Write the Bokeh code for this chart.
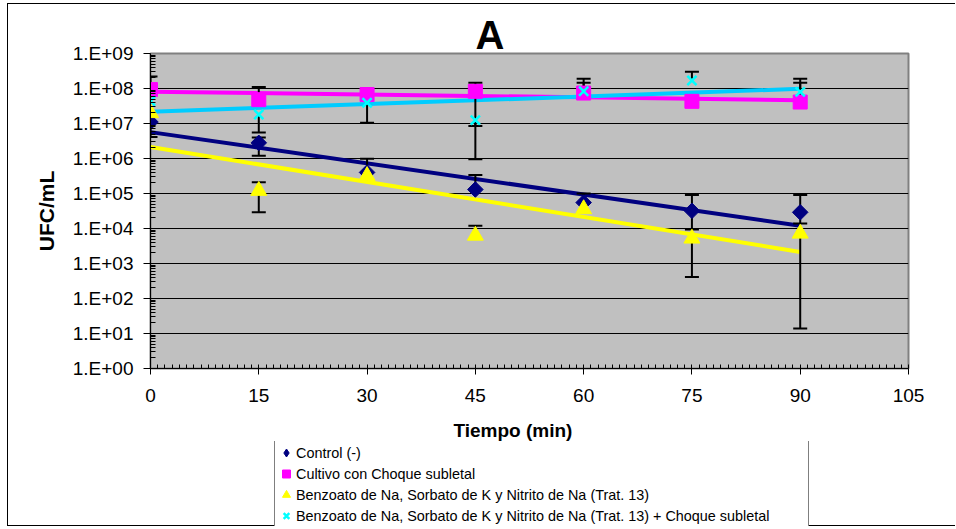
import numpy as np
from bokeh.plotting import figure
from bokeh.layouts import column
from bokeh.models import FixedTicker, Legend, LegendItem
from bokeh.embed import file_html
from bokeh.resources import INLINE

nan = float("nan")

# ---- data ----
minutes = [0, 15, 30, 45, 60, 75, 90]

control = [1.1e7, 2.8e6, 4.0e5, 1.3e5, 5.5e4, 3.2e4, 2.9e4]
control_hi = [nan, 4.0e6, 9.8e5, 3.4e5, 1.0e5, 9.1e4, 9.1e4]
control_lo = [4.1e6, 1.2e6, nan, nan, nan, 9.4e3, 1.4e4]

choque = [9.3e7, 4.8e7, 6.7e7, 8.3e7, 7.4e7, 4.3e7, 4.1e7]
choque_hi = [2.2e8, 1.1e8, 1.0e8, 1.45e8, 1.45e8, nan, 1.45e8]
choque_lo = [nan, nan, nan, 8.5e6, nan, nan, nan]

trat13 = [2.0e7, 1.2e5, 3.2e5, 6.3e3, 3.6e4, 5.2e3, 7.2e3]
trat13_hi = [nan, 2.1e5, nan, 1.2e4, nan, nan, nan]
trat13_lo = [nan, 2.9e4, nan, nan, nan, 4.1e2, 14]

trat13_choque = [4.4e7, 1.8e7, 3.9e7, 1.25e7, 8.3e7, 1.7e8, 8.0e7]
trat13_choque_hi = [nan, nan, nan, nan, 1.9e8, 3.0e8, 1.9e8]
trat13_choque_lo = [nan, 5.5e6, 1.05e7, 9.5e5, nan, nan, nan]

series_names = [
    "Control (-)",
    "Cultivo con Choque subletal",
    "Benzoato de Na, Sorbato de K y Nitrito de Na (Trat. 13)",
    "Benzoato de Na, Sorbato de K y Nitrito de Na (Trat. 13) + Choque subletal",
]

x_ticks = [0, 15, 30, 45, 60, 75, 90, 105]
y_ticks = [1e0, 1e1, 1e2, 1e3, 1e4, 1e5, 1e6, 1e7, 1e8, 1e9]
y_tick_labels = ["1.E+00", "1.E+01", "1.E+02", "1.E+03", "1.E+04",
                 "1.E+05", "1.E+06", "1.E+07", "1.E+08", "1.E+09"]

title_text = "A"
x_title = "Tiempo (min)"
y_title = "UFC/mL"

FONT = "Liberation Sans"

p = figure(width=948, height=408, x_range=(0, 105), y_range=(1, 1e9),
           y_axis_type="log", output_backend="svg", toolbar_location=None,
           min_border_left=142, min_border_right=48, min_border_top=49,
           min_border_bottom=44, background_fill_color="#C0C0C0",
           border_fill_color="white", outline_line_color="#808080",
           outline_line_width=2)
p.margin = (3, 0, 0, 7)
p.styles = {"border-left": "1px solid black", "border-top": "1px solid black"}

# title "A"
p.title.text = title_text
p.title.align = "left"
p.title.offset = 325
p.title.text_font = FONT
p.title.text_font_size = "40px"
p.title.text_font_style = "bold"
p.title.text_color = "black"
p.title.vertical_align = "bottom"
p.title.standoff = -7

# axes
p.xaxis.ticker = FixedTicker(ticks=x_ticks, minor_ticks=list(range(0, 106)))
minor_y = [m * 10.0 ** k for k in range(0, 9) for m in range(2, 10)]
p.yaxis.ticker = FixedTicker(ticks=y_ticks, minor_ticks=minor_y)
p.yaxis.major_label_overrides = {t: l for t, l in zip(y_ticks, y_tick_labels)}

for ax in (p.xaxis, p.yaxis):
    ax.axis_line_color = "black"
    ax.major_tick_line_color = "black"
    ax.minor_tick_line_color = "black"
    ax.major_label_text_color = "black"
    ax.major_label_text_font = FONT
    ax.major_label_text_font_size = "19px"
    ax.major_tick_in = 0

p.xaxis.major_tick_out = 6
p.xaxis.minor_tick_in = 4
p.xaxis.minor_tick_out = 0
p.xaxis.major_label_standoff = 14

p.yaxis.major_tick_out = 7
p.yaxis.minor_tick_in = 5
p.yaxis.minor_tick_out = 0
p.yaxis.major_label_standoff = 10
p.yaxis.axis_label = y_title
p.yaxis.axis_label_text_font = FONT
p.yaxis.axis_label_text_font_style = "bold"
p.yaxis.axis_label_text_font_size = "21px"
p.yaxis.axis_label_text_color = "black"
p.yaxis.axis_label_standoff = 12

p.xgrid.visible = False
p.ygrid.grid_line_color = "black"
p.ygrid.grid_line_width = 1

x = np.array(minutes, dtype=float)
series = [
    (control, control_hi, control_lo, "#000080"),
    (choque, choque_hi, choque_lo, "#FF00FF"),
    (trat13, trat13_hi, trat13_lo, "#FFFF00"),
    (trat13_choque, trat13_choque_hi, trat13_choque_lo, "#00CCFF"),
]

# trendlines (exponential fit, as in the spreadsheet)
for vals, hi, lo, lcol in series:
    coef = np.polyfit(x, np.log10(vals), 1)
    xs = np.array([x.min(), x.max()])
    p.line(xs, 10 ** np.polyval(coef, xs), line_color=lcol, line_width=4)

# error bars
for vals, hi, lo, lcol in series:
    v = np.array(vals, dtype=float)
    h = np.array(hi, dtype=float)
    l = np.array(lo, dtype=float)
    p.segment(x0=x, y0=v, x1=x, y1=h, line_color="black", line_width=2)
    p.segment(x0=x, y0=v, x1=x, y1=l, line_color="black", line_width=2)
    p.scatter(x, h, marker="dash", size=14, line_color="black", line_width=2)
    p.scatter(x, l, marker="dash", size=14, line_color="black", line_width=2)

marker_styles = [
    dict(marker="square", angle=np.pi / 4, size=11, fill_color="#000080", line_color="#000080"),
    dict(marker="square", size=14, fill_color="#FF00FF", line_color="#FF00FF"),
    dict(marker="triangle", size=16, fill_color="#FFFF00", line_color="#FFFF00"),
    dict(marker="x", size=13, line_color="#00FFFF", line_width=2.5),
]
values = [control, choque, trat13, trat13_choque]

# markers
for vals, st in zip(values, marker_styles):
    p.scatter(x, vals, **st)

# ---- strip below: x-axis title + legend (separate figure so nothing is clipped) ----
lg = figure(width=948, height=115, x_range=(0, 1), y_range=(0, 1),
            output_backend="svg", toolbar_location=None,
            min_border_left=0, min_border_right=0, min_border_top=30,
            min_border_bottom=0, x_axis_location=None, y_axis_location=None,
            outline_line_color=None, background_fill_color="white",
            border_fill_color="white")
lg.grid.visible = False
lg.margin = (0, 0, 0, 7)
lg.styles = {"border-left": "1px solid black", "border-bottom": "1px solid black"}

lg.title.text = x_title
lg.title.align = "left"
lg.title.offset = 303
lg.title.text_font = FONT
lg.title.text_font_size = "19px"
lg.title.text_font_style = "bold"
lg.title.text_color = "black"
lg.title.vertical_align = "bottom"
lg.title.standoff = 2

legend_styles = [dict(st) for st in marker_styles]
legend_styles[0] = dict(marker="diamond", fill_color="#000080", line_color="#000080")

# same series, outside this strip's ranges: only their legend glyphs show
leg_renderers = [lg.scatter(x, vals, **st) for vals, st in zip(values, legend_styles)]
legend = Legend(items=[LegendItem(label=n, renderers=[r]) for n, r in zip(series_names, leg_renderers)],
                location=(124, -2), orientation="vertical",
                border_line_color="black", border_line_width=1,
                background_fill_color="white", background_fill_alpha=1,
                label_text_font=FONT, label_text_font_size="14.4px",
                label_text_color="black",
                glyph_width=20, glyph_height=21, label_height=21,
                label_width=511,
                spacing=0, padding=1, margin=0, label_standoff=0)
lg.add_layout(legend)

layout = column(p, lg, spacing=0)
open("out.html", "w").write(file_html(layout, INLINE))
